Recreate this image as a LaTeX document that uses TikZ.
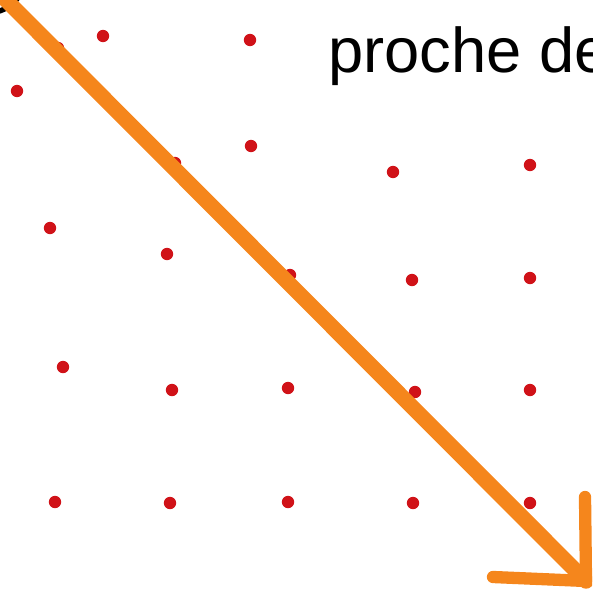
\documentclass[tikz,border=0pt]{standalone}
\usepackage{fontspec}
\setmainfont{Liberation Sans}
\usetikzlibrary{positioning}
\definecolor{orangefleche}{RGB}{245,134,28}
\definecolor{rougepoint}{RGB}{208,18,24}

\begin{document}
\begin{tikzpicture}[x=0.02cm, y=-0.02cm,
    point/.style={fill=rougepoint},
    fleche/.style={draw=orangefleche, line width=8.8pt, line cap=round, line join=round}]
        \useasboundingbox (0,0) rectangle (592,595);
        \clip (0,0) rectangle (592,595);

        % Points rouges
        \foreach \x/\y in {103/36, 250/40, 58/48, 17/91,
                           175/163, 251/146, 393/172, 530/165,
                           50/228, 167/254, 290/275, 412/280, 530/278,
                           63/367, 172/390, 288/388, 415/392, 530/390,
                           55/502, 170/503, 288/502, 413/503, 530/503}
        {
        \fill[point] (\x, \y) circle[radius=6.2];
        }

        % Bout du cercle noir
        \draw[black, line width=3pt] (-12.5,-25) circle[radius=38];

        % Texte
        \node[anchor=base west, inner sep=0pt, font=\fontsize{36}{40}\selectfont] (texte) at (328,72) {proche de};

        % Fleche
        \coordinate (debut) at (-2,-8);
        \coordinate (fin) at (586,581);
        \coordinate (brasA) at (585,497);
        \coordinate (brasB) at (493,577);
        \draw[fleche] (debut) -- (fin);
        \draw[fleche, line width=7pt] (brasA) -- (fin) -- (brasB);
    \end{tikzpicture}
\end{document}
